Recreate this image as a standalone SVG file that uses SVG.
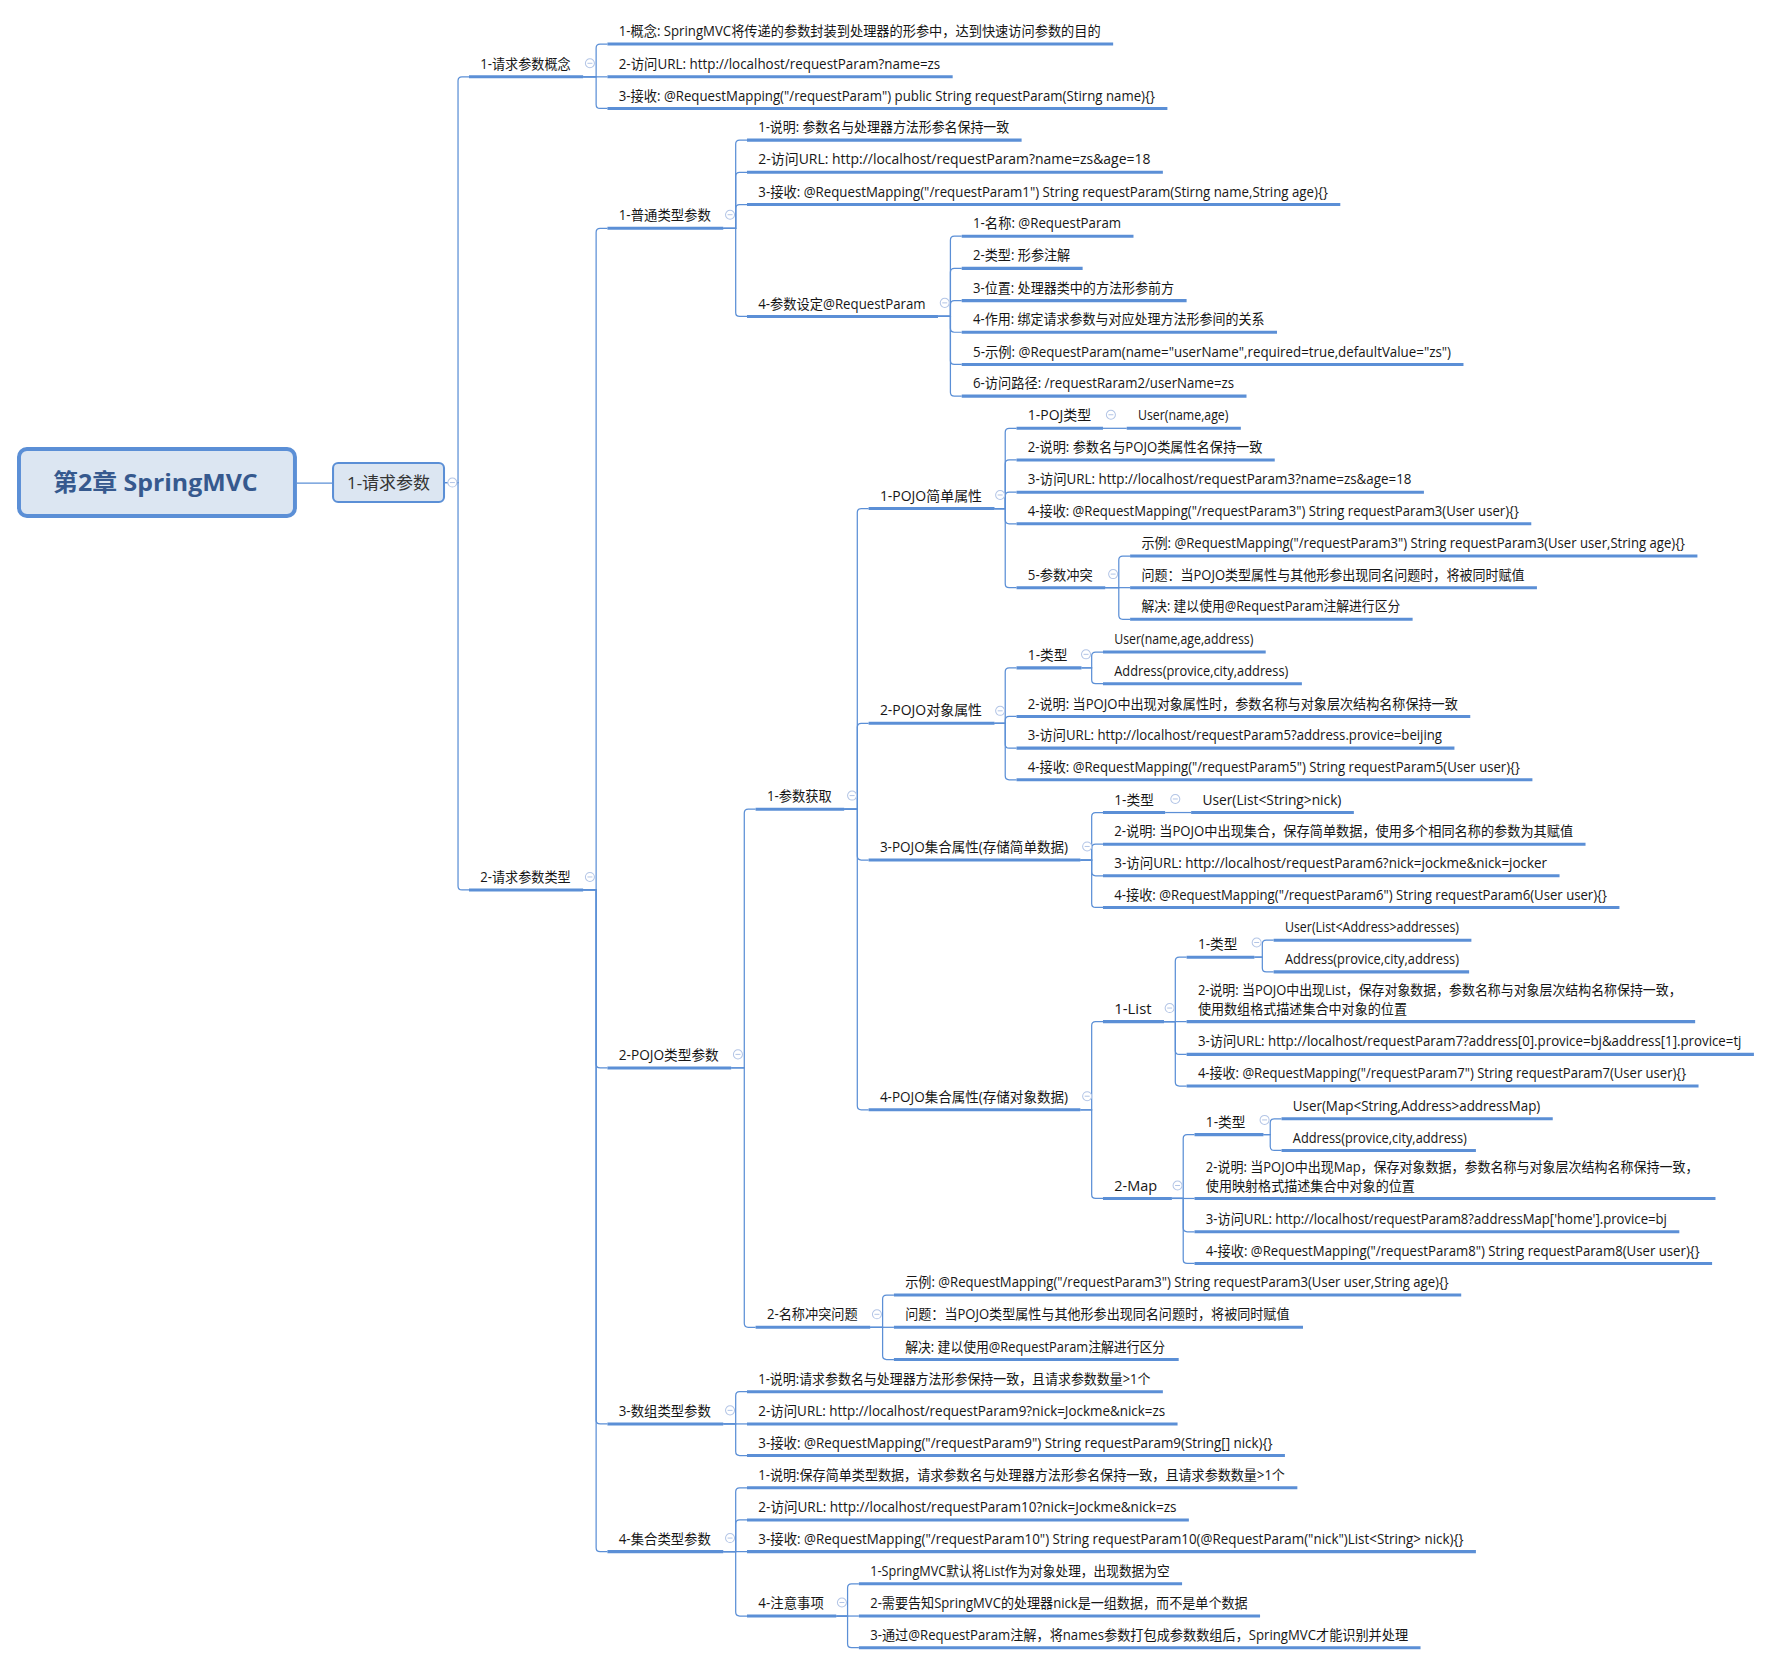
<svg xmlns="http://www.w3.org/2000/svg" xmlns:xlink="http://www.w3.org/1999/xlink" width="1772" height="1665" viewBox="0 0 1772 1665">
<style>
.t{font-family:"Open Sans","Noto Sans CJK SC",sans-serif;font-size:12.1px;fill:#161616}
.u{stroke:#5b8fd6;stroke-width:2.7}
.c{fill:none;stroke:#5b8fd6;stroke-width:1.1}
.k{fill:#fff;stroke:#b3c5e6;stroke-width:0.9}
.km{stroke:#b3c5e6;stroke-width:0.9}
</style>
<defs>
<g id="col"><circle class="k" cx="0" cy="0" r="4"/><line class="km" x1="-2.2" y1="0" x2="2.2" y2="0"/></g>
</defs>
<rect width="1772" height="1665" fill="#fff"/>
<g transform="scale(1.1301)">
<g id="connectors">
<path class="c" d="M262.8 427.4 H294"/>
<path class="c" d="M393.8 427 H405.3 V71.5 Q405.3 68 408.8 68 H415"/>
<path class="c" d="M393.8 427 H405.3 V784 Q405.3 787.5 408.8 787.5 H415"/>
<path class="c" d="M516 68 H527.5 V42.5 Q527.5 39 531 39 H537.5"/>
<path class="c" d="M516 68 H537.5"/>
<path class="c" d="M516 68 H527.5 V92.5 Q527.5 96 531 96 H537.5"/>
<path class="c" d="M516 787.5 H527.5 V205.5 Q527.5 202 531 202 H537.5"/>
<path class="c" d="M516 787.5 H527.5 V941.5 Q527.5 945 531 945 H537.5"/>
<path class="c" d="M516 787.5 H527.5 V1256.5 Q527.5 1260 531 1260 H537.5"/>
<path class="c" d="M516 787.5 H527.5 V1369.5 Q527.5 1373 531 1373 H537.5"/>
<path class="c" d="M640 202 H651 V127.5 Q651 124 654.5 124 H661"/>
<path class="c" d="M640 202 H651 V156 Q651 152.5 654.5 152.5 H661"/>
<path class="c" d="M640 202 H651 V184.5 Q651 181 654.5 181 H661"/>
<path class="c" d="M640 202 H651 V276.5 Q651 280 654.5 280 H661"/>
<path class="c" d="M830 280 H841 V212.5 Q841 209 844.5 209 H851"/>
<path class="c" d="M830 280 H841 V241 Q841 237.5 844.5 237.5 H851"/>
<path class="c" d="M830 280 H841 V269.5 Q841 266 844.5 266 H851"/>
<path class="c" d="M830 280 H841 V290.5 Q841 294 844.5 294 H851"/>
<path class="c" d="M830 280 H841 V319 Q841 322.5 844.5 322.5 H851"/>
<path class="c" d="M830 280 H841 V347 Q841 350.5 844.5 350.5 H851"/>
<path class="c" d="M647 945 H658.6 V719.5 Q658.6 716 662.1 716 H668.6"/>
<path class="c" d="M647 945 H658.6 V1171 Q658.6 1174.5 662.1 1174.5 H668.6"/>
<path class="c" d="M747 716 H758.6 V453.5 Q758.6 450 762.1 450 H768.6"/>
<path class="c" d="M747 716 H758.6 V643.5 Q758.6 640 762.1 640 H768.6"/>
<path class="c" d="M747 716 H758.6 V757.5 Q758.6 761 762.1 761 H768.6"/>
<path class="c" d="M747 716 H758.6 V978.5 Q758.6 982 762.1 982 H768.6"/>
<path class="c" d="M880 450 H889.5 V382.5 Q889.5 379 893 379 H899.5"/>
<path class="c" d="M880 450 H889.5 V410.5 Q889.5 407 893 407 H899.5"/>
<path class="c" d="M880 450 H889.5 V439 Q889.5 435.5 893 435.5 H899.5"/>
<path class="c" d="M880 450 H889.5 V460 Q889.5 463.5 893 463.5 H899.5"/>
<path class="c" d="M880 450 H889.5 V516.5 Q889.5 520 893 520 H899.5"/>
<path class="c" d="M976 379 H997"/>
<path class="c" d="M978 520 H990 V495.5 Q990 492 993.5 492 H1000"/>
<path class="c" d="M978 520 H1000"/>
<path class="c" d="M978 520 H990 V544.5 Q990 548 993.5 548 H1000"/>
<path class="c" d="M880 640 H889.5 V594.5 Q889.5 591 893 591 H899.5"/>
<path class="c" d="M880 640 H889.5 V637.5 Q889.5 634 893 634 H899.5"/>
<path class="c" d="M880 640 H889.5 V658.5 Q889.5 662 893 662 H899.5"/>
<path class="c" d="M880 640 H889.5 V686.5 Q889.5 690 893 690 H899.5"/>
<path class="c" d="M957 591 H966 V580.5 Q966 577 969.5 577 H976"/>
<path class="c" d="M957 591 H966 V601.5 Q966 605 969.5 605 H976"/>
<path class="c" d="M956 761 H966 V722.5 Q966 719 969.5 719 H976"/>
<path class="c" d="M956 761 H966 V750.5 Q966 747 969.5 747 H976"/>
<path class="c" d="M956 761 H966 V771.5 Q966 775 969.5 775 H976"/>
<path class="c" d="M956 761 H966 V799.5 Q966 803 969.5 803 H976"/>
<path class="c" d="M1031 719 H1054"/>
<path class="c" d="M956 982 H966 V907.5 Q966 904 969.5 904 H976"/>
<path class="c" d="M956 982 H966 V1057 Q966 1060.5 969.5 1060.5 H976"/>
<path class="c" d="M1030 904 H1040 V850.5 Q1040 847 1043.5 847 H1050"/>
<path class="c" d="M1030 904 H1050"/>
<path class="c" d="M1030 904 H1040 V929.5 Q1040 933 1043.5 933 H1050"/>
<path class="c" d="M1030 904 H1040 V957.5 Q1040 961 1043.5 961 H1050"/>
<path class="c" d="M1110 847 H1117 V835.5 Q1117 832 1120.5 832 H1127"/>
<path class="c" d="M1110 847 H1117 V856.5 Q1117 860 1120.5 860 H1127"/>
<path class="c" d="M1037 1060.5 H1047 V1007.5 Q1047 1004 1050.5 1004 H1057"/>
<path class="c" d="M1037 1060.5 H1057"/>
<path class="c" d="M1037 1060.5 H1047 V1086.5 Q1047 1090 1050.5 1090 H1057"/>
<path class="c" d="M1037 1060.5 H1047 V1114.5 Q1047 1118 1050.5 1118 H1057"/>
<path class="c" d="M1118 1004 H1124 V993.5 Q1124 990 1127.5 990 H1134"/>
<path class="c" d="M1118 1004 H1124 V1014.5 Q1124 1018 1127.5 1018 H1134"/>
<path class="c" d="M770 1174.5 H781 V1149.5 Q781 1146 784.5 1146 H791"/>
<path class="c" d="M770 1174.5 H791"/>
<path class="c" d="M770 1174.5 H781 V1199.5 Q781 1203 784.5 1203 H791"/>
<path class="c" d="M640 1260 H651 V1235 Q651 1231.5 654.5 1231.5 H661"/>
<path class="c" d="M640 1260 H661"/>
<path class="c" d="M640 1260 H651 V1284.5 Q651 1288 654.5 1288 H661"/>
<path class="c" d="M640 1373 H651 V1320 Q651 1316.5 654.5 1316.5 H661"/>
<path class="c" d="M640 1373 H651 V1348.5 Q651 1345 654.5 1345 H661"/>
<path class="c" d="M640 1373 H661"/>
<path class="c" d="M640 1373 H651 V1426.5 Q651 1430 654.5 1430 H661"/>
<path class="c" d="M740 1430 H750 V1405 Q750 1401.5 753.5 1401.5 H760"/>
<path class="c" d="M740 1430 H760"/>
<path class="c" d="M740 1430 H750 V1454.5 Q750 1458 753.5 1458 H760"/>
</g>

<g id="root">
<rect x="16.8" y="397.3" width="244.2" height="59.3" rx="7" fill="#dce6f2" stroke="#5b8fd6" stroke-width="3.5"/>
<text x="47" y="434.5" font-family="Open Sans,Noto Sans CJK SC,sans-serif" font-size="21.2" font-weight="bold" fill="#36598e" textLength="181" lengthAdjust="spacingAndGlyphs">第2章 SpringMVC</text>
</g>
<g id="n-req">
<rect x="294.7" y="409.7" width="98.2" height="34.5" rx="4.5" fill="#dce6f2" stroke="#5b8fd6" stroke-width="1.8"/>
<text x="307" y="432.5" font-family="Open Sans,Noto Sans CJK SC,sans-serif" font-size="15" fill="#333" textLength="73.5" lengthAdjust="spacingAndGlyphs">1-请求参数</text>
<use xlink:href="#col" x="400.3" y="427"/>
</g>

<g id="n-concept"><line class="u" x1="415" y1="68" x2="516" y2="68"/><text class="t" x="425" y="61" textLength="80" lengthAdjust="spacingAndGlyphs">1-请求参数概念</text><use xlink:href="#col" x="522" y="56"/></g>
<g id="n-a1"><line class="u" x1="537.5" y1="39" x2="985" y2="39"/><text class="t" x="547.5" y="32" textLength="426.5" lengthAdjust="spacingAndGlyphs">1-概念: SpringMVC将传递的参数封装到处理器的形参中，达到快速访问参数的目的</text></g>
<g id="n-a2"><line class="u" x1="537.5" y1="68" x2="843" y2="68"/><text class="t" x="547.5" y="61" textLength="284.5" lengthAdjust="spacingAndGlyphs">2-访问URL: http://localhost/requestParam?name=zs</text></g>
<g id="n-a3"><line class="u" x1="537.5" y1="96" x2="1033" y2="96"/><text class="t" x="547.5" y="89" textLength="474.5" lengthAdjust="spacingAndGlyphs">3-接收: @RequestMapping("/requestParam") public String requestParam(Stirng name){}</text></g>

<g id="n-types"><line class="u" x1="415" y1="787.5" x2="516" y2="787.5"/><text class="t" x="425" y="780.5" textLength="80" lengthAdjust="spacingAndGlyphs">2-请求参数类型</text><use xlink:href="#col" x="522" y="776"/></g>

<g id="n-p1"><line class="u" x1="537.5" y1="202" x2="640" y2="202"/><text class="t" x="547.5" y="195" textLength="81.5" lengthAdjust="spacingAndGlyphs">1-普通类型参数</text><use xlink:href="#col" x="646" y="190"/></g>
<g id="n-d1"><line class="u" x1="661" y1="124" x2="904" y2="124"/><text class="t" x="671" y="117" textLength="222" lengthAdjust="spacingAndGlyphs">1-说明: 参数名与处理器方法形参名保持一致</text></g>
<g id="n-d2"><line class="u" x1="661" y1="152.5" x2="1029" y2="152.5"/><text class="t" x="671" y="145.5" textLength="347" lengthAdjust="spacingAndGlyphs">2-访问URL: http://localhost/requestParam?name=zs&amp;age=18</text></g>
<g id="n-d3"><line class="u" x1="661" y1="181" x2="1186" y2="181"/><text class="t" x="671" y="174" textLength="504" lengthAdjust="spacingAndGlyphs">3-接收: @RequestMapping("/requestParam1") String requestParam(Stirng name,String age){}</text></g>
<g id="n-d4"><line class="u" x1="661" y1="280" x2="830" y2="280"/><text class="t" x="671" y="273" textLength="148" lengthAdjust="spacingAndGlyphs">4-参数设定@RequestParam</text><use xlink:href="#col" x="836" y="268"/></g>
<g id="n-e1"><line class="u" x1="851" y1="209" x2="1003" y2="209"/><text class="t" x="861" y="202" textLength="131" lengthAdjust="spacingAndGlyphs">1-名称: @RequestParam</text></g>
<g id="n-e2"><line class="u" x1="851" y1="237.5" x2="958" y2="237.5"/><text class="t" x="861" y="230.5" textLength="86" lengthAdjust="spacingAndGlyphs">2-类型: 形参注解</text></g>
<g id="n-e3"><line class="u" x1="851" y1="266" x2="1050" y2="266"/><text class="t" x="861" y="259" textLength="178" lengthAdjust="spacingAndGlyphs">3-位置: 处理器类中的方法形参前方</text></g>
<g id="n-e4"><line class="u" x1="851" y1="294" x2="1130" y2="294"/><text class="t" x="861" y="287" textLength="258" lengthAdjust="spacingAndGlyphs">4-作用: 绑定请求参数与对应处理方法形参间的关系</text></g>
<g id="n-e5"><line class="u" x1="851" y1="322.5" x2="1295" y2="322.5"/><text class="t" x="861" y="315.5" textLength="423" lengthAdjust="spacingAndGlyphs">5-示例: @RequestParam(name="userName",required=true,defaultValue="zs")</text></g>
<g id="n-e6"><line class="u" x1="851" y1="350.5" x2="1103" y2="350.5"/><text class="t" x="861" y="343.5" textLength="231" lengthAdjust="spacingAndGlyphs">6-访问路径: /requestRaram2/userName=zs</text></g>

<g id="n-p2"><line class="u" x1="537.5" y1="945" x2="647" y2="945"/><text class="t" x="547.5" y="938" textLength="88.5" lengthAdjust="spacingAndGlyphs">2-POJO类型参数</text><use xlink:href="#col" x="653" y="933"/></g>
<g id="n-q1"><line class="u" x1="668.6" y1="716" x2="747" y2="716"/><text class="t" x="678.6" y="709" textLength="57.4" lengthAdjust="spacingAndGlyphs">1-参数获取</text><use xlink:href="#col" x="754" y="704"/></g>

<g id="n-r1"><line class="u" x1="768.6" y1="450" x2="880" y2="450"/><text class="t" x="778.6" y="443" textLength="90.4" lengthAdjust="spacingAndGlyphs">1-POJO简单属性</text><use xlink:href="#col" x="885" y="438"/></g>
<g id="n-h1"><line class="u" x1="899.5" y1="379" x2="976" y2="379"/><text class="t" x="909.5" y="372" textLength="56" lengthAdjust="spacingAndGlyphs">1-POJ类型</text><use xlink:href="#col" x="983" y="367"/></g>
<g id="n-h1b"><line class="u" x1="997" y1="379" x2="1098" y2="379"/><text class="t" x="1007" y="372" textLength="80" lengthAdjust="spacingAndGlyphs">User(name,age)</text></g>
<g id="n-h2"><line class="u" x1="899.5" y1="407" x2="1128" y2="407"/><text class="t" x="909.5" y="400" textLength="207.5" lengthAdjust="spacingAndGlyphs">2-说明: 参数名与POJO类属性名保持一致</text></g>
<g id="n-h3"><line class="u" x1="899.5" y1="435.5" x2="1260" y2="435.5"/><text class="t" x="909.5" y="428.5" textLength="339.5" lengthAdjust="spacingAndGlyphs">3-访问URL: http://localhost/requestParam3?name=zs&amp;age=18</text></g>
<g id="n-h4"><line class="u" x1="899.5" y1="463.5" x2="1355" y2="463.5"/><text class="t" x="909.5" y="456.5" textLength="434.5" lengthAdjust="spacingAndGlyphs">4-接收: @RequestMapping("/requestParam3") String requestParam3(User user){}</text></g>
<g id="n-h5"><line class="u" x1="899.5" y1="520" x2="978" y2="520"/><text class="t" x="909.5" y="513" textLength="57.5" lengthAdjust="spacingAndGlyphs">5-参数冲突</text><use xlink:href="#col" x="985" y="508"/></g>
<g id="n-i1"><line class="u" x1="1000" y1="492" x2="1502" y2="492"/><text class="t" x="1010" y="485" textLength="481" lengthAdjust="spacingAndGlyphs">示例: @RequestMapping("/requestParam3") String requestParam3(User user,String age){}</text></g>
<g id="n-i2"><line class="u" x1="1000" y1="520" x2="1360" y2="520"/><text class="t" x="1010" y="513" textLength="339" lengthAdjust="spacingAndGlyphs">问题：当POJO类型属性与其他形参出现同名问题时，将被同时赋值</text></g>
<g id="n-i3"><line class="u" x1="1000" y1="548" x2="1250" y2="548"/><text class="t" x="1010" y="541" textLength="229" lengthAdjust="spacingAndGlyphs">解决: 建以使用@RequestParam注解进行区分</text></g>

<g id="n-r2"><line class="u" x1="768.6" y1="640" x2="880" y2="640"/><text class="t" x="778.6" y="633" textLength="90.4" lengthAdjust="spacingAndGlyphs">2-POJO对象属性</text><use xlink:href="#col" x="885" y="629"/></g>
<g id="n-j1"><line class="u" x1="899.5" y1="591" x2="957" y2="591"/><text class="t" x="909.5" y="584" textLength="35" lengthAdjust="spacingAndGlyphs">1-类型</text><use xlink:href="#col" x="961" y="579"/></g>
<g id="n-k1"><line class="u" x1="976" y1="577" x2="1120" y2="577"/><text class="t" x="986" y="570" textLength="123" lengthAdjust="spacingAndGlyphs">User(name,age,address)</text></g>
<g id="n-k2"><line class="u" x1="976" y1="605" x2="1152" y2="605"/><text class="t" x="986" y="598" textLength="154" lengthAdjust="spacingAndGlyphs">Address(provice,city,address)</text></g>
<g id="n-j2"><line class="u" x1="899.5" y1="634" x2="1301" y2="634"/><text class="t" x="909.5" y="627" textLength="380.5" lengthAdjust="spacingAndGlyphs">2-说明: 当POJO中出现对象属性时，参数名称与对象层次结构名称保持一致</text></g>
<g id="n-j3"><line class="u" x1="899.5" y1="662" x2="1287" y2="662"/><text class="t" x="909.5" y="655" textLength="366.5" lengthAdjust="spacingAndGlyphs">3-访问URL: http://localhost/requestParam5?address.provice=beijing</text></g>
<g id="n-j4"><line class="u" x1="899.5" y1="690" x2="1356" y2="690"/><text class="t" x="909.5" y="683" textLength="435.5" lengthAdjust="spacingAndGlyphs">4-接收: @RequestMapping("/requestParam5") String requestParam5(User user){}</text></g>

<g id="n-r3"><line class="u" x1="768.6" y1="761" x2="956" y2="761"/><text class="t" x="778.6" y="754" textLength="166.4" lengthAdjust="spacingAndGlyphs">3-POJO集合属性(存储简单数据)</text><use xlink:href="#col" x="962" y="749"/></g>
<g id="n-l1"><line class="u" x1="976" y1="719" x2="1031" y2="719"/><text class="t" x="986" y="712" textLength="35" lengthAdjust="spacingAndGlyphs">1-类型</text><use xlink:href="#col" x="1040" y="707"/></g>
<g id="n-l1b"><line class="u" x1="1054" y1="719" x2="1198" y2="719"/><text class="t" x="1064" y="712" textLength="123" lengthAdjust="spacingAndGlyphs">User(List&lt;String&gt;nick)</text></g>
<g id="n-l2"><line class="u" x1="976" y1="747" x2="1403" y2="747"/><text class="t" x="986" y="740" textLength="406" lengthAdjust="spacingAndGlyphs">2-说明: 当POJO中出现集合，保存简单数据，使用多个相同名称的参数为其赋值</text></g>
<g id="n-l3"><line class="u" x1="976" y1="775" x2="1380" y2="775"/><text class="t" x="986" y="768" textLength="383" lengthAdjust="spacingAndGlyphs">3-访问URL: http://localhost/requestParam6?nick=jockme&amp;nick=jocker</text></g>
<g id="n-l4"><line class="u" x1="976" y1="803" x2="1433" y2="803"/><text class="t" x="986" y="796" textLength="436" lengthAdjust="spacingAndGlyphs">4-接收: @RequestMapping("/requestParam6") String requestParam6(User user){}</text></g>

<g id="n-r4"><line class="u" x1="768.6" y1="982" x2="956" y2="982"/><text class="t" x="778.6" y="975" textLength="166.4" lengthAdjust="spacingAndGlyphs">4-POJO集合属性(存储对象数据)</text><use xlink:href="#col" x="962" y="970"/></g>
<g id="n-list"><line class="u" x1="976" y1="904" x2="1030" y2="904"/><text class="t" x="986" y="897" textLength="33" lengthAdjust="spacingAndGlyphs">1-List</text><use xlink:href="#col" x="1035" y="892"/></g>
<g id="n-list1"><line class="u" x1="1050" y1="847" x2="1110" y2="847"/><text class="t" x="1060" y="840" textLength="35" lengthAdjust="spacingAndGlyphs">1-类型</text><use xlink:href="#col" x="1112" y="834"/></g>
<g id="n-o1"><line class="u" x1="1127" y1="832" x2="1302" y2="832"/><text class="t" x="1137" y="825" textLength="154" lengthAdjust="spacingAndGlyphs">User(List&lt;Address&gt;addresses)</text></g>
<g id="n-o2"><line class="u" x1="1127" y1="860" x2="1300" y2="860"/><text class="t" x="1137" y="853" textLength="154" lengthAdjust="spacingAndGlyphs">Address(provice,city,address)</text></g>
<g id="n-list2"><line class="u" x1="1050" y1="904" x2="1500" y2="904"/><text class="t" x="1060" y="880.5" textLength="428" lengthAdjust="spacingAndGlyphs">2-说明: 当POJO中出现List，保存对象数据，参数名称与对象层次结构名称保持一致，</text><text class="t" x="1060" y="897" textLength="185" lengthAdjust="spacingAndGlyphs">使用数组格式描述集合中对象的位置</text></g>
<g id="n-list3"><line class="u" x1="1050" y1="933" x2="1552" y2="933"/><text class="t" x="1060" y="926" textLength="481" lengthAdjust="spacingAndGlyphs">3-访问URL: http://localhost/requestParam7?address[0].provice=bj&amp;address[1].provice=tj</text></g>
<g id="n-list4"><line class="u" x1="1050" y1="961" x2="1503" y2="961"/><text class="t" x="1060" y="954" textLength="432" lengthAdjust="spacingAndGlyphs">4-接收: @RequestMapping("/requestParam7") String requestParam7(User user){}</text></g>

<g id="n-map"><line class="u" x1="976" y1="1060.5" x2="1037" y2="1060.5"/><text class="t" x="986" y="1053.5" textLength="38" lengthAdjust="spacingAndGlyphs">2-Map</text><use xlink:href="#col" x="1042" y="1049"/></g>
<g id="n-map1"><line class="u" x1="1057" y1="1004" x2="1118" y2="1004"/><text class="t" x="1067" y="997" textLength="35" lengthAdjust="spacingAndGlyphs">1-类型</text><use xlink:href="#col" x="1119" y="991"/></g>
<g id="n-q1m"><line class="u" x1="1134" y1="990" x2="1374" y2="990"/><text class="t" x="1144" y="983" textLength="219" lengthAdjust="spacingAndGlyphs">User(Map&lt;String,Address&gt;addressMap)</text></g>
<g id="n-q2m"><line class="u" x1="1134" y1="1018" x2="1306" y2="1018"/><text class="t" x="1144" y="1011" textLength="154" lengthAdjust="spacingAndGlyphs">Address(provice,city,address)</text></g>
<g id="n-map2"><line class="u" x1="1057" y1="1060.5" x2="1518" y2="1060.5"/><text class="t" x="1067" y="1037" textLength="436" lengthAdjust="spacingAndGlyphs">2-说明: 当POJO中出现Map，保存对象数据，参数名称与对象层次结构名称保持一致，</text><text class="t" x="1067" y="1053.5" textLength="185" lengthAdjust="spacingAndGlyphs">使用映射格式描述集合中对象的位置</text></g>
<g id="n-map3"><line class="u" x1="1057" y1="1090" x2="1486" y2="1090"/><text class="t" x="1067" y="1083" textLength="408" lengthAdjust="spacingAndGlyphs">3-访问URL: http://localhost/requestParam8?addressMap['home'].provice=bj</text></g>
<g id="n-map4"><line class="u" x1="1057" y1="1118" x2="1515" y2="1118"/><text class="t" x="1067" y="1111" textLength="437" lengthAdjust="spacingAndGlyphs">4-接收: @RequestMapping("/requestParam8") String requestParam8(User user){}</text></g>

<g id="n-q2"><line class="u" x1="668.6" y1="1174.5" x2="770" y2="1174.5"/><text class="t" x="678.6" y="1167.5" textLength="80.4" lengthAdjust="spacingAndGlyphs">2-名称冲突问题</text><use xlink:href="#col" x="776" y="1163"/></g>
<g id="n-rr1"><line class="u" x1="791" y1="1146" x2="1293" y2="1146"/><text class="t" x="801" y="1139" textLength="481" lengthAdjust="spacingAndGlyphs">示例: @RequestMapping("/requestParam3") String requestParam3(User user,String age){}</text></g>
<g id="n-rr2"><line class="u" x1="791" y1="1174.5" x2="1153" y2="1174.5"/><text class="t" x="801" y="1167.5" textLength="340" lengthAdjust="spacingAndGlyphs">问题：当POJO类型属性与其他形参出现同名问题时，将被同时赋值</text></g>
<g id="n-rr3"><line class="u" x1="791" y1="1203" x2="1043" y2="1203"/><text class="t" x="801" y="1196" textLength="230" lengthAdjust="spacingAndGlyphs">解决: 建以使用@RequestParam注解进行区分</text></g>

<g id="n-p3"><line class="u" x1="537.5" y1="1260" x2="640" y2="1260"/><text class="t" x="547.5" y="1253" textLength="81.5" lengthAdjust="spacingAndGlyphs">3-数组类型参数</text><use xlink:href="#col" x="646" y="1248"/></g>
<g id="n-s1"><line class="u" x1="661" y1="1231.5" x2="1029" y2="1231.5"/><text class="t" x="671" y="1224.5" textLength="347" lengthAdjust="spacingAndGlyphs">1-说明:请求参数名与处理器方法形参保持一致，且请求参数数量&gt;1个</text></g>
<g id="n-s2"><line class="u" x1="661" y1="1260" x2="1042" y2="1260"/><text class="t" x="671" y="1253" textLength="360" lengthAdjust="spacingAndGlyphs">2-访问URL: http://localhost/requestParam9?nick=Jockme&amp;nick=zs</text></g>
<g id="n-s3"><line class="u" x1="661" y1="1288" x2="1137" y2="1288"/><text class="t" x="671" y="1281" textLength="455" lengthAdjust="spacingAndGlyphs">3-接收: @RequestMapping("/requestParam9") String requestParam9(String[] nick){}</text></g>

<g id="n-p4"><line class="u" x1="537.5" y1="1373" x2="640" y2="1373"/><text class="t" x="547.5" y="1366" textLength="81.5" lengthAdjust="spacingAndGlyphs">4-集合类型参数</text><use xlink:href="#col" x="646" y="1361"/></g>
<g id="n-t1"><line class="u" x1="661" y1="1316.5" x2="1148" y2="1316.5"/><text class="t" x="671" y="1309.5" textLength="466" lengthAdjust="spacingAndGlyphs">1-说明:保存简单类型数据，请求参数名与处理器方法形参名保持一致，且请求参数数量&gt;1个</text></g>
<g id="n-t2"><line class="u" x1="661" y1="1345" x2="1052" y2="1345"/><text class="t" x="671" y="1338" textLength="370" lengthAdjust="spacingAndGlyphs">2-访问URL: http://localhost/requestParam10?nick=Jockme&amp;nick=zs</text></g>
<g id="n-t3"><line class="u" x1="661" y1="1373" x2="1306" y2="1373"/><text class="t" x="671" y="1366" textLength="624" lengthAdjust="spacingAndGlyphs">3-接收: @RequestMapping("/requestParam10") String requestParam10(@RequestParam("nick")List&lt;String&gt; nick){}</text></g>
<g id="n-t4"><line class="u" x1="661" y1="1430" x2="740" y2="1430"/><text class="t" x="671" y="1423" textLength="58" lengthAdjust="spacingAndGlyphs">4-注意事项</text><use xlink:href="#col" x="745" y="1418"/></g>
<g id="n-u1"><line class="u" x1="760" y1="1401.5" x2="1046" y2="1401.5"/><text class="t" x="770" y="1394.5" textLength="265" lengthAdjust="spacingAndGlyphs">1-SpringMVC默认将List作为对象处理，出现数据为空</text></g>
<g id="n-u2"><line class="u" x1="760" y1="1430" x2="1115" y2="1430"/><text class="t" x="770" y="1423" textLength="334" lengthAdjust="spacingAndGlyphs">2-需要告知SpringMVC的处理器nick是一组数据，而不是单个数据</text></g>
<g id="n-u3"><line class="u" x1="760" y1="1458" x2="1257" y2="1458"/><text class="t" x="770" y="1451" textLength="476" lengthAdjust="spacingAndGlyphs">3-通过@RequestParam注解，将names参数打包成参数数组后，SpringMVC才能识别并处理</text></g>
</g>
</svg>
